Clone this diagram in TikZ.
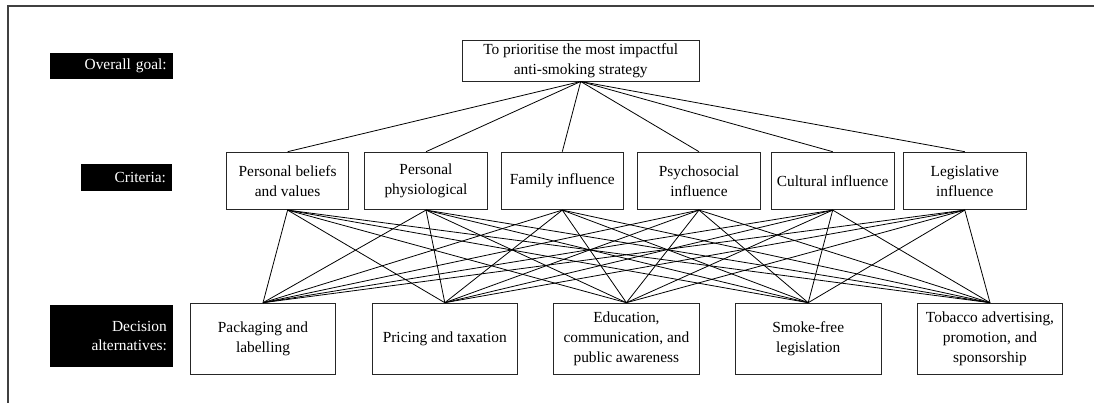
\documentclass[tikz,border=0pt]{standalone}
\usepackage{fontspec}
\setmainfont{Liberation Serif}
\begin{document}
\begin{tikzpicture}[x=1pt,y=-1pt,
  every node/.style={font=\fontsize{15.4}{19.8}\selectfont, inner sep=0pt},
  box/.style={draw=black!85, line width=0.9pt, align=center, minimum height=#1},
  crit/.style={box=57.5pt, minimum width=122.5pt},
  alt/.style={box=71.5pt, minimum width=145.5pt},
  level/.style={fill=black, text=white, align=right, inner xsep=6pt},
  link/.style={line width=0.8pt, black}]
\useasboundingbox (0,0) rectangle (1094,403);
% outer frame (only its top and left sides fall inside the page)
\draw[line width=1.4pt, black!75] (8,420) -- (8,6) -- (1110,6);

% level labels
\node[level, text width=110.7pt, minimum height=26pt] (lgoal) at (111.4,65.7) {Overall goal:};
\node[level, text width=79pt, minimum height=27pt] (lcrit) at (126.5,177.2) {Criteria:};
\node[level, text width=110.7pt, minimum height=62pt] (lalt) at (111.5,336) {Decision\\alternatives:};

% goal
\node[box=40.7pt, minimum width=236.7pt] (goal) at (580.7,60.7)
  {To prioritise the most impactful\\anti-smoking strategy};

% criteria
\node[crit] (c1) at (287.6,180.9) {Personal beliefs\\and values};
\node[crit] (c2) at (426,180.9) {Personal\\physiological};
\node[crit] (c3) at (562.3,180.9) {Family influence};
\node[crit] (c4) at (699,180.9) {Psychosocial\\influence};
\node[crit] (c5) at (832.7,180.9) {Cultural influence};
\node[crit] (c6) at (964.8,180.9) {Legislative\\influence};

% decision alternatives
\node[alt] (a1) at (263,338.9) {Packaging and\\labelling};
\node[alt] (a2) at (444.8,338.9) {Pricing and taxation};
\node[alt] (a3) at (626.4,338.9) {Education,\\communication, and\\public awareness};
\node[alt] (a4) at (808.2,338.9) {Smoke-free\\legislation};
\node[alt] (a5) at (990,338.9) {Tobacco advertising,\\promotion, and\\sponsorship};

% goal to criteria
\foreach \c in {c1,c2,c3,c4,c5,c6}
  \draw[link] (goal.south) -- (\c.north);
% every criterion to every alternative
\foreach \c in {c1,c2,c3,c4,c5,c6}
  \foreach \a in {a1,a2,a3,a4,a5}
    \draw[link] (\c.south) -- (\a.north);
\end{tikzpicture}
\end{document}
